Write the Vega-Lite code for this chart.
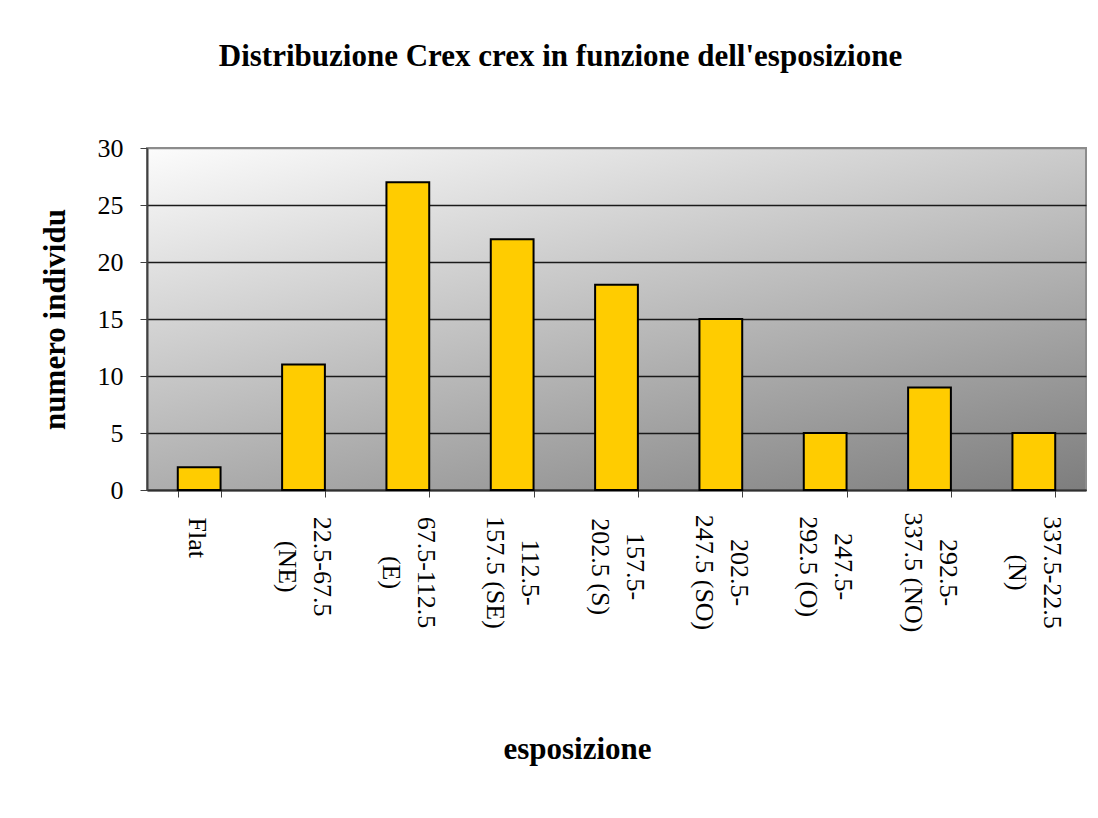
{
  "$schema": "https://vega.github.io/schema/vega-lite/v6.json",
  "width": 939,
  "height": 342,
  "autosize": {"type": "none"},
  "padding": {"left": 147, "top": 148, "right": 12, "bottom": 328},
  "background": "white",
  "title": {
    "text": "Distribuzione Crex crex in funzione dell'esposizione",
    "font": "Liberation Serif",
    "fontSize": 31,
    "fontWeight": "bold",
    "color": "black",
    "anchor": "middle",
    "baseline": "alphabetic",
    "dx": -56,
    "offset": 38
  },
  "data": {
    "values": [
      {"esposizione": "Flat", "individui": 2},
      {"esposizione": "22.5-67.5 (NE)", "individui": 11},
      {"esposizione": "67.5-112.5 (E)", "individui": 27},
      {"esposizione": "112.5-157.5 (SE)", "individui": 22},
      {"esposizione": "157.5-202.5 (S)", "individui": 18},
      {"esposizione": "202.5-247.5 (SO)", "individui": 15},
      {"esposizione": "247.5-292.5 (O)", "individui": 5},
      {"esposizione": "292.5-337.5 (NO)", "individui": 9},
      {"esposizione": "337.5-22.5 (N)", "individui": 5}
    ]
  },
  "mark": {"type": "bar", "fill": "#FFCC00", "stroke": "black", "strokeWidth": 2},
  "encoding": {
    "x": {
      "field": "esposizione",
      "type": "nominal",
      "sort": null,
      "scale": {"paddingInner": 0.59, "paddingOuter": 0.295},
      "axis": {
        "title": "esposizione",
        "titleFont": "Liberation Serif",
        "titleFontSize": 31,
        "titleFontWeight": "bold",
        "titleColor": "black",
        "titleX": 430,
        "titleY": 268,
        "titleBaseline": "alphabetic",
        "titleAlign": "center",
        "labelExpr": "datum.value == null ? '' : (length(split(datum.value, ' ')[0]) >= 11 ? [split(datum.value, '-')[0] + '-', slice(datum.value, indexof(datum.value, '-') + 1)] : split(datum.value, ' '))",
        "labelAngle": 90,
        "labelAlign": "center",
        "labelFont": "Liberation Serif",
        "labelFontSize": 26,
        "labelColor": "black",
        "labelLineHeight": 35,
        "labelPadding": {"expr": "datum.value == null ? 17 : 17 + 5.8 * (length(split(datum.value, ' ')[0]) >= 11 ? max(length(split(datum.value, '-')[0]) + 1, length(datum.value) - indexof(datum.value, '-') - 1) : max(length(split(datum.value, ' ')[0]), length(datum.value) - length(split(datum.value, ' ')[0]) - 1))"},
        "labelOffset": {"expr": "datum.value == null ? 0 : (indexof(datum.value, ' ') > 0 ? 17.5 : -3)"},
        "labelOverlap": false,
        "labelFlush": false,
        "tickBand": "extent",
        "tickSize": 7,
        "tickColor": "#404040",
        "domainColor": "#303030",
        "domainWidth": 2,
        "grid": false
      }
    },
    "y": {
      "field": "individui",
      "type": "quantitative",
      "scale": {"domain": [0, 30]},
      "axis": {
        "title": "numero individu",
        "titleFont": "Liberation Serif",
        "titleFontSize": 31,
        "titleFontWeight": "bold",
        "titleColor": "black",
        "titlePadding": 26,
        "values": [0, 5, 10, 15, 20, 25, 30],
        "labelFont": "Liberation Serif",
        "labelFontSize": 26,
        "labelColor": "black",
        "labelPadding": 17,
        "tickSize": 7,
        "tickColor": "#404040",
        "domainColor": "#404040",
        "domainWidth": 2,
        "grid": true,
        "gridColor": {"condition": {"test": "datum.value == 30", "value": "#8c8c8c"}, "value": "#1a1a1a"},
        "gridWidth": 1.5
      }
    }
  },
  "config": {
    "view": {
      "fill": {
        "gradient": "linear",
        "x1": 0, "y1": 0, "x2": 0.75, "y2": 1.2,
        "stops": [
          {"offset": 0, "color": "#fcfcfc"},
          {"offset": 1, "color": "#7a7a7a"}
        ]
      },
      "stroke": "#8c8c8c",
      "strokeWidth": 2
    }
  }
}
